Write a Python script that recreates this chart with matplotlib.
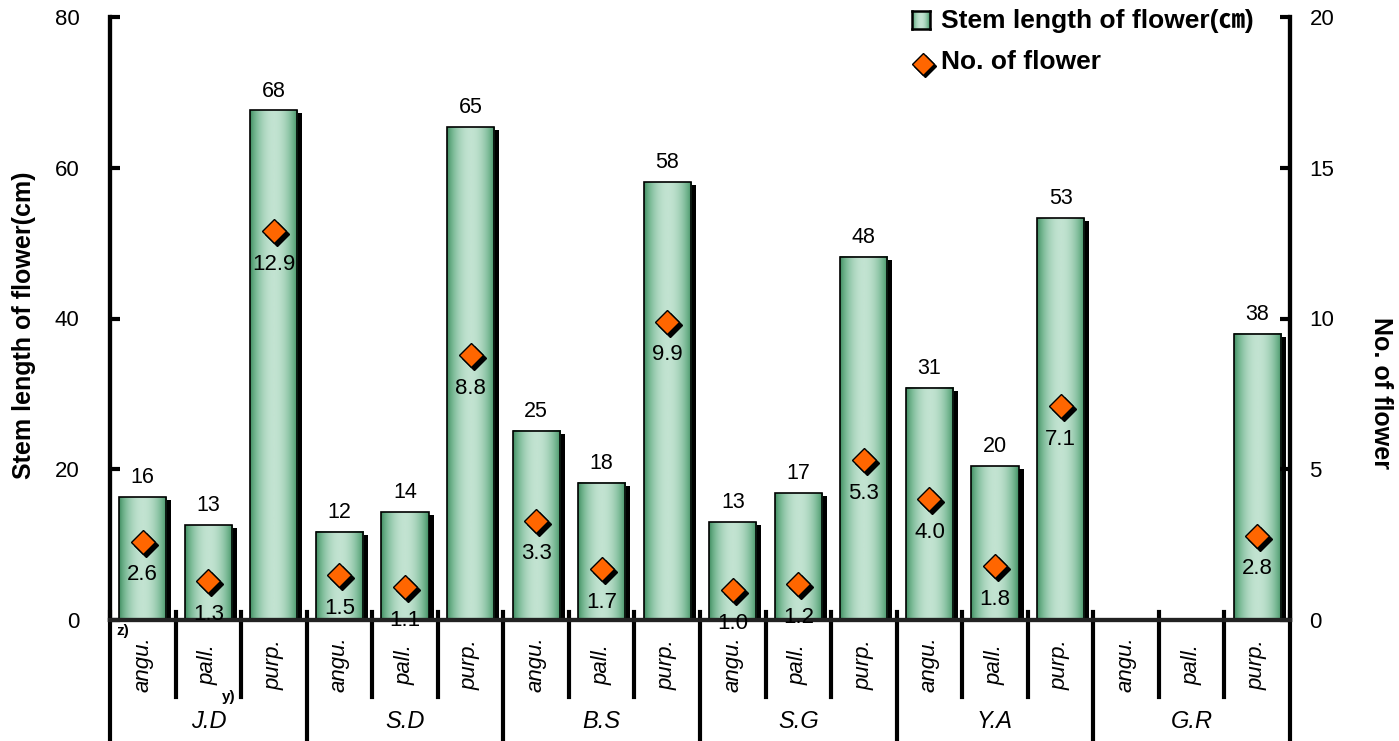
import numpy as np
import matplotlib.pyplot as plt
from matplotlib.colors import LinearSegmentedColormap
from matplotlib.patches import Rectangle
from matplotlib.lines import Line2D
from matplotlib.transforms import offset_copy

plt.rcParams['font.family'] = ['Liberation Sans', 'Noto Sans CJK KR', 'DejaVu Sans']

groups = ["J.D", "S.D", "B.S", "S.G", "Y.A", "G.R"]
species = ["angu.", "pall.", "purp."]
stem_length = [16.3, 12.6, 67.6, 11.7, 14.3, 65.4, 25.1, 18.2, 58.1,
               13.0, 16.8, 48.2, 30.8, 20.4, 53.3, np.nan, np.nan, 38.0]
n_flower = [2.6, 1.3, 12.9, 1.5, 1.1, 8.8, 3.3, 1.7, 9.9,
            1.0, 1.2, 5.3, 4.0, 1.8, 7.1, np.nan, np.nan, 2.8]

W, H = 1399, 741
fig = plt.figure(figsize=(W / 100, H / 100), dpi=100)
ax = fig.add_axes([110 / W, 121 / H, 1180 / W, 603 / H])
ax2 = ax.twinx()

cmap = LinearSegmentedColormap.from_list("grn", ["#3a8a5c", "#79b995", "#c2e3d1"])
t = np.linspace(0, 1, 64)
grad = (np.sin(np.pi * t) ** 0.7)[None, :]

bw = 0.72
x = np.arange(len(stem_length))
shadow_tr = offset_copy(ax.transData, fig=fig, x=5, y=-3, units='dots')
for xi, v in zip(x, stem_length):
    if np.isnan(v):
        continue
    ax.add_patch(Rectangle((xi - bw / 2, 0), bw, v, facecolor='black',
                           edgecolor='none', transform=shadow_tr, zorder=1))
    ax.imshow(grad, cmap=cmap, extent=[xi - bw / 2, xi + bw / 2, 0, v],
              aspect='auto', zorder=2, interpolation='bilinear')
    ax.add_patch(Rectangle((xi - bw / 2, 0), bw, v, facecolor='none',
                           edgecolor='black', linewidth=1.2, zorder=3))
    ax.annotate(f"{v:.0f}", (xi, v), xytext=(0, 14), textcoords='offset points',
                ha='center', va='center', fontsize=15.5)

ax.set_xlim(-0.5, len(x) - 0.5)
ax.set_ylim(0, 80)
ax.set_yticks([0, 20, 40, 60, 80])
ax.set_xticks([])
ax.tick_params(axis='y', direction='in', length=7, width=3, pad=22, labelsize=16)

# markers with shadow
mshadow = offset_copy(ax2.transData, fig=fig, x=3, y=-3, units='dots')
ax2.plot(x, n_flower, linestyle='none', marker='D', markersize=12.5,
         color='black', transform=mshadow, zorder=4)
ax2.plot(x, n_flower, linestyle='none', marker='D', markersize=12.5,
         markerfacecolor='#ff6600', markeredgecolor='black', markeredgewidth=1, zorder=5)
for xi, v in zip(x, n_flower):
    if np.isnan(v):
        continue
    ax2.annotate(f"{v:.1f}", (xi, v), xytext=(0, -24), textcoords='offset points',
                 ha='center', va='center', fontsize=16, zorder=6)
ax2.set_ylim(0, 20)
ax2.set_yticks([0, 5, 10, 15, 20])
ax2.tick_params(axis='y', direction='in', length=7, width=3, pad=14, labelsize=16)

for a in (ax, ax2):
    a.spines['top'].set_visible(False)
    a.spines['left'].set_linewidth(3)
    a.spines['right'].set_linewidth(3)
    a.spines['bottom'].set_linewidth(3)
    a.spines['bottom'].set_color('#222222')

# category rows under the axis
tr = ax.get_xaxis_transform()
for b in np.arange(-0.5, len(x)):
    is_group = abs((b + 0.5) % 3) < 1e-9
    y0 = -0.2 if is_group else -0.128
    ax.add_line(Line2D([b, b], [0.013, y0], transform=tr, color='black',
                       linewidth=3, clip_on=False, zorder=1))
for i in range(len(x)):
    ax.text(i, -0.074, species[i % 3], transform=tr, rotation=90, style='italic',
            ha='center', va='center', fontsize=16)
for g, name in enumerate(groups):
    ax.text(3 * g + 1, -0.169, name, transform=tr, style='italic',
            ha='center', va='center', fontsize=17)

fig.text(123 / W, 1 - 631 / H, "z)", fontsize=11, fontweight='bold', ha='center', va='center')
fig.text(229 / W, 1 - 697 / H, "y)", fontsize=11, fontweight='bold', ha='center', va='center')

fig.text(24 / W, 1 - 325 / H, "Stem length of flower(cm)", rotation=90, fontsize=18,
         fontweight='bold', ha='center', va='center')
fig.text(1381 / W, 1 - 393 / H, "No. of flower", rotation=-90, fontsize=18,
         fontweight='bold', ha='center', va='center')

# legend
lax = fig.add_axes([912 / W, 1 - 29 / H, 18 / W, 18 / H])
lax.imshow(grad, cmap=cmap, aspect='auto', interpolation='bilinear')
lax.set_xticks([])
lax.set_yticks([])
for s in lax.spines.values():
    s.set_linewidth(1.8)
fig.text(941 / W, 1 - 21 / H, "Stem length of flower(㎝)", fontsize=19,
         fontweight='bold', ha='left', va='center')
fig.add_artist(Line2D([925 / W], [1 - 66 / H], transform=fig.transFigure,
                      marker='D', markersize=11, color='black', linestyle='none'))
fig.add_artist(Line2D([923 / W], [1 - 64 / H], transform=fig.transFigure, marker='D',
                      markersize=11, markerfacecolor='#ff6600', markeredgecolor='black',
                      linestyle='none'))
fig.text(941 / W, 1 - 62 / H, "No. of flower", fontsize=19, fontweight='bold',
         ha='left', va='center')

fig.savefig("out.png", dpi=100)
